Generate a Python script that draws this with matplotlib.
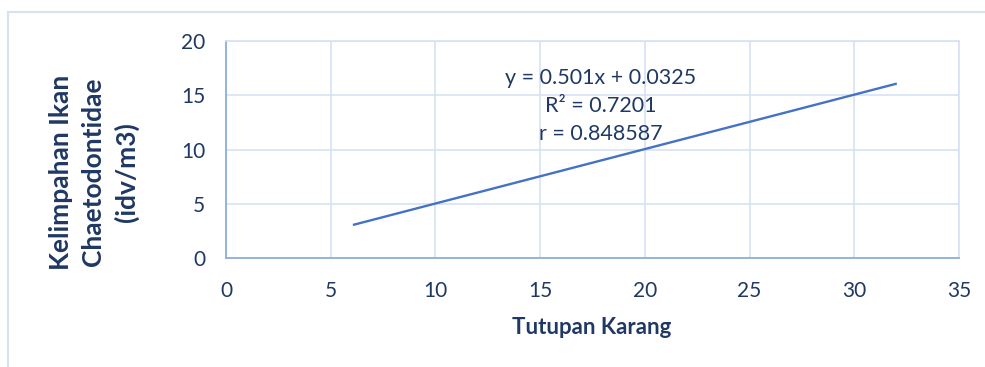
import numpy as np
import matplotlib.pyplot as plt
from matplotlib.lines import Line2D

# trendline as reported on the chart
slope = 0.501
intercept = 0.0325
r_squared = 0.7201
r_value = 0.848587
x_range = [6.06, 32.03]

x_ticks = [0, 5, 10, 15, 20, 25, 30, 35]
y_ticks = [0, 5, 10, 15, 20]

text_col = '#1F3864'
grid_col = '#D6E1F2'
axis_col = '#8EAEDD'
line_col = '#4472C4'

plt.rcParams['font.family'] = ['Lato', 'DejaVu Sans']

fig = plt.figure(figsize=(9.85, 3.67), dpi=100)
ax = fig.add_axes([226/985, 1 - 258.3/367, 733/985, 217.3/367])

xs = np.array(x_range)
ax.plot(xs, slope*xs + intercept, color=line_col, lw=1.7, solid_capstyle='butt')

ax.set_xlim(0, 35)
ax.set_ylim(0, 20)
ax.set_xticks(x_ticks)
ax.set_yticks(y_ticks)
ax.grid(True, color=grid_col, lw=1.2)
ax.set_axisbelow(True)
ax.tick_params(length=0, labelsize=15, colors=text_col)
ax.tick_params(axis='x', pad=16)
ax.tick_params(axis='y', pad=15)
for s in ['left', 'bottom']:
    ax.spines[s].set_color(axis_col)
    ax.spines[s].set_linewidth(1.3)
for s in ['top', 'right']:
    ax.spines[s].set_color(grid_col)
    ax.spines[s].set_linewidth(1.2)

ax.text(17.9, 14.0,
        f'y = {slope}x + {intercept}\nR² = {r_squared}\nr = {r_value}',
        ha='center', va='center', fontsize=15.5, color=text_col, linespacing=1.5)

fig.text(592/985, 1 - 328/367, 'Tutupan Karang', ha='center', va='center',
         fontsize=16, fontweight='bold', color=text_col)
fig.text(94/985, 1 - 172/367, 'Kelimpahan Ikan\nChaetodontidae\n(idv/m3)',
         ha='center', va='center', rotation=90, fontsize=19,
         fontweight='bold', color=text_col, linespacing=1.4)

# chart area frame
fig.add_artist(Line2D([8/985, 8/985], [0, 1 - 12/367], transform=fig.transFigure,
                      color=grid_col, lw=1.5))
fig.add_artist(Line2D([8/985, 1], [1 - 12/367, 1 - 12/367], transform=fig.transFigure,
                      color=grid_col, lw=1.5))

fig.savefig('out.png', dpi=100)
